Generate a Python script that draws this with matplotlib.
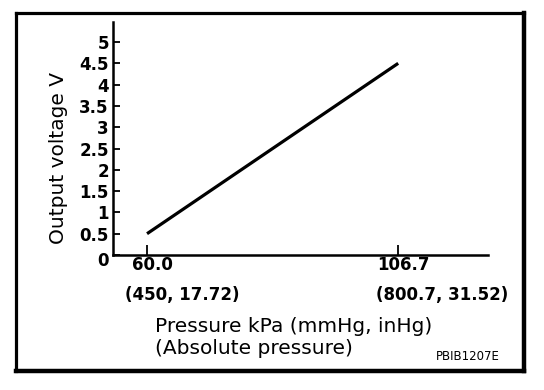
import matplotlib
matplotlib.use("Agg")
import matplotlib.pyplot as plt
import matplotlib.transforms as mtransforms
from matplotlib.lines import Line2D

# data
pressure_kpa = [60.0, 106.7]
pressure_other = ["(450, 17.72)", "(800.7, 31.52)"]
voltage = [0.5, 4.5]
y_ticks = [0, 0.5, 1, 1.5, 2, 2.5, 3, 3.5, 4, 4.5, 5]
y_tick_labels = ["0", "0.5", "1", "1.5", "2", "2.5", "3", "3.5", "4", "4.5", "5"]

W, H = 544, 390
fig = plt.figure(figsize=(W / 100, H / 100), dpi=100)


def fx(px):
    return px / W


def fy(py):
    return 1 - py / H


# outer frame, heavier on the right and bottom
frame = dict(color="black", solid_capstyle="projecting")
fig.add_artist(Line2D([fx(15.5), fx(524)], [fy(12.5), fy(12.5)], lw=2.3, **frame))
fig.add_artist(Line2D([fx(15.5), fx(15.5)], [fy(12.5), fy(371)], lw=2.3, **frame))
fig.add_artist(Line2D([fx(524), fx(524)], [fy(13.1), fy(371)], lw=3.2, **frame))
fig.add_artist(Line2D([fx(15.5), fx(524)], [fy(371), fy(371)], lw=3.2, **frame))

ax = fig.add_axes([fx(113), fy(255), fx(488) - fx(113), fy(22) - fy(255)])
ax.plot(pressure_kpa, voltage, color="black", lw=2.3, solid_capstyle="butt")
ax.set_xlim(53.67, 123.4)
ax.set_ylim(0, 5.47)

for s in ["top", "right"]:
    ax.spines[s].set_visible(False)
for s in ["left", "bottom"]:
    ax.spines[s].set_linewidth(1.8)

ax.set_yticks(y_ticks)
ax.set_yticklabels(y_tick_labels, fontsize=12, fontweight="bold")
ax.tick_params(axis="y", direction="in", length=5, width=1.3, pad=3)
# the zero label sits a little below the axis line
zero = ax.get_yticklabels()[0]
zero.set_transform(zero.get_transform() + mtransforms.ScaledTranslation(0, -4 / 100, fig.dpi_scale_trans))

ax.set_xticks(pressure_kpa)
ax.set_xticklabels([])
ax.tick_params(axis="x", direction="in", length=7, width=1.3)

for p, lab in zip(pressure_kpa, pressure_other):
    ax.annotate(f"{p:.1f}", xy=(p, 0), xycoords=("data", "axes fraction"),
                xytext=(5, -10), textcoords="offset pixels",
                ha="center", va="center", fontsize=12, fontweight="bold")
    ax.annotate(lab, xy=(p, 0), xycoords=("data", "axes fraction"),
                xytext=(-22, -40), textcoords="offset pixels",
                ha="left", va="center", fontsize=12, fontweight="bold")

fig.text(fx(59), fy(158), "Output voltage V", rotation=90, ha="center", va="center", fontsize=14.5)
fig.text(fx(155), fy(327), "Pressure kPa (mmHg, inHg)", ha="left", va="center", fontsize=14.5)
fig.text(fx(155), fy(349), "(Absolute pressure)", ha="left", va="center", fontsize=14.5)
fig.text(fx(500), fy(357), "PBIB1207E", ha="right", va="center", fontsize=8.5)

fig.savefig("out.png", dpi=100)
